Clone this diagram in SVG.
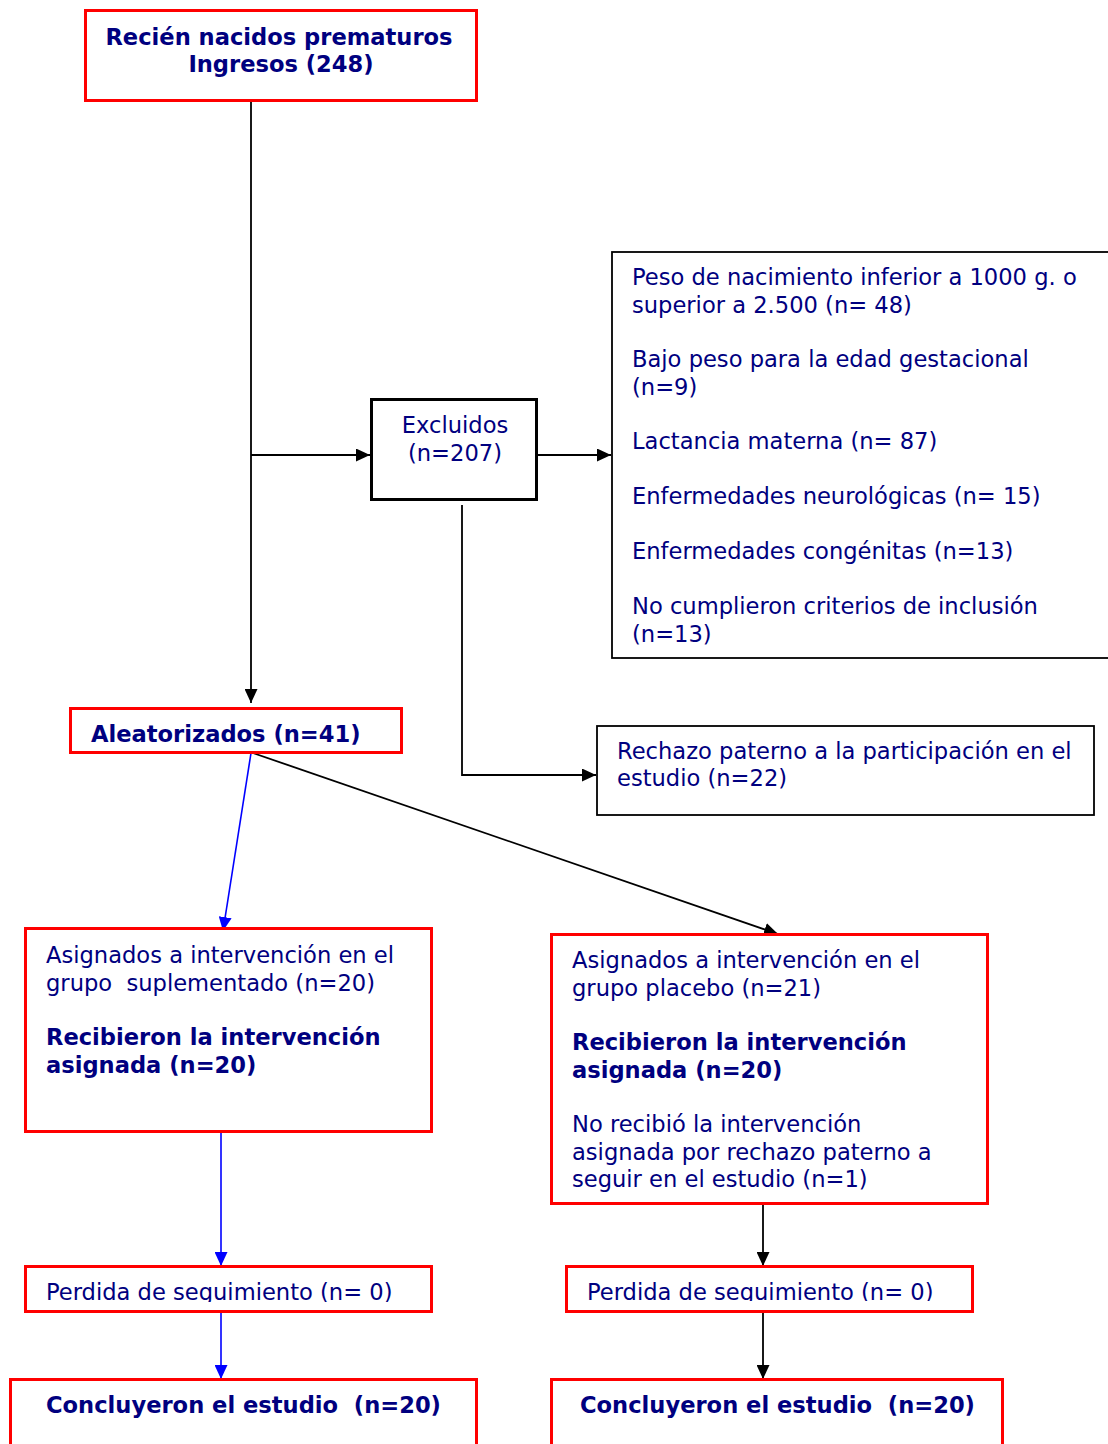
<svg xmlns="http://www.w3.org/2000/svg" width="1108" height="1444" viewBox="0 0 1108 1444">
<style>
.red{fill:#fff;stroke:#ff0000;stroke-width:3}
.blk{fill:#fff;stroke:#000;stroke-width:1.8}
.blk3{fill:#fff;stroke:#000;stroke-width:3}
text{font-family:"DejaVu Sans",Verdana,sans-serif;font-size:22.6px;fill:#00007f}
.b{font-weight:bold}
.c{fill:none;stroke:#000;stroke-width:1.8}
.cb{fill:none;stroke:#0000ff;stroke-width:1.6}
</style>
<defs>
<marker id="ak" markerUnits="userSpaceOnUse" markerWidth="15" markerHeight="13" refX="14" refY="6.5" orient="auto"><path d="M0,0 L14,6.5 L0,13 z" fill="#000"/></marker>
<marker id="ab" markerUnits="userSpaceOnUse" markerWidth="15" markerHeight="13" refX="14" refY="6.5" orient="auto"><path d="M0,0 L14,6.5 L0,13 z" fill="#0000ff"/></marker>
<clipPath id="clA"><rect x="70" y="708" width="332" height="43"/></clipPath>
<clipPath id="clPL"><rect x="25" y="1266" width="407" height="36"/></clipPath>
<clipPath id="clPR"><rect x="566" y="1266" width="407" height="35"/></clipPath>
</defs>
<g id="connectors">
<path class="c" d="M251,101 V703" marker-end="url(#ak)"/>
<path class="c" d="M251,455 H370" marker-end="url(#ak)"/>
<path class="c" d="M537,455 H611" marker-end="url(#ak)"/>
<path class="c" d="M462,505 V775 H596" marker-end="url(#ak)"/>
<path class="cb" d="M251,753 L223,931" marker-end="url(#ab)"/>
<path class="c" d="M253,753 L778,934" marker-end="url(#ak)"/>
<path class="cb" d="M221,1132 V1266" marker-end="url(#ab)"/>
<path class="c" d="M763,1204 V1266" marker-end="url(#ak)"/>
<path class="cb" d="M221,1312 V1379" marker-end="url(#ab)"/>
<path class="c" d="M763,1312 V1379" marker-end="url(#ak)"/>
</g>
<g id="n-ingresos">
<rect class="red" x="85.5" y="10.5" width="391" height="90"/>
<text class="b" x="279" y="45" text-anchor="middle">Recién nacidos prematuros</text>
<text class="b" x="281" y="72" text-anchor="middle">Ingresos (248)</text>
</g>
<g id="n-excluidos">
<rect class="blk3" x="371.5" y="399.5" width="165" height="100"/>
<text x="455" y="433" text-anchor="middle">Excluidos</text>
<text x="455" y="461" text-anchor="middle">(n=207)</text>
</g>
<g id="n-motivos">
<rect class="blk" x="612" y="252" width="500" height="406"/>
<text x="632" y="285">Peso de nacimiento inferior a 1000 g. o</text>
<text x="632" y="313">superior a 2.500 (n= 48)</text>
<text x="632" y="367">Bajo peso para la edad gestacional</text>
<text x="632" y="395">(n=9)</text>
<text x="632" y="449">Lactancia materna (n= 87)</text>
<text x="632" y="504">Enfermedades neurológicas (n= 15)</text>
<text x="632" y="559">Enfermedades congénitas (n=13)</text>
<text x="632" y="614">No cumplieron criterios de inclusión</text>
<text x="632" y="642">(n=13)</text>
</g>
<g id="n-rechazo">
<rect class="blk" x="597" y="726" width="497" height="89"/>
<text x="617" y="759">Rechazo paterno a la participación en el</text>
<text x="617" y="786">estudio (n=22)</text>
</g>
<g id="n-aleatorizados">
<rect class="red" x="70.5" y="708.5" width="331" height="44"/>
<text class="b" x="91" y="742" clip-path="url(#clA)">Aleatorizados (n=41)</text>
</g>
<g id="n-suplementado">
<rect class="red" x="25.5" y="928.5" width="406" height="203"/>
<text x="46" y="963">Asignados a intervención en el</text>
<text x="46" y="991" xml:space="preserve">grupo  suplementado (n=20)</text>
<text class="b" x="46" y="1045">Recibieron la intervención</text>
<text class="b" x="46" y="1073">asignada (n=20)</text>
</g>
<g id="n-placebo">
<rect class="red" x="551.5" y="934.5" width="436" height="269"/>
<text x="572" y="968">Asignados a intervención en el</text>
<text x="572" y="996">grupo placebo (n=21)</text>
<text class="b" x="572" y="1050">Recibieron la intervención</text>
<text class="b" x="572" y="1078">asignada (n=20)</text>
<text x="572" y="1132">No recibió la intervención</text>
<text x="572" y="1160">asignada por rechazo paterno a</text>
<text x="572" y="1187">seguir en el estudio (n=1)</text>
</g>
<g id="n-perdida-izq">
<rect class="red" x="25.5" y="1266.5" width="406" height="45"/>
<text x="46" y="1300" clip-path="url(#clPL)">Perdida de seguimiento (n= 0)</text>
</g>
<g id="n-perdida-der">
<rect class="red" x="566.5" y="1266.5" width="406" height="45"/>
<text x="587" y="1300" clip-path="url(#clPR)">Perdida de seguimiento (n= 0)</text>
</g>
<g id="n-concluyeron-izq">
<rect class="red" x="10.5" y="1379.5" width="466" height="80"/>
<text class="b" x="46" y="1413" xml:space="preserve">Concluyeron el estudio  (n=20)</text>
</g>
<g id="n-concluyeron-der">
<rect class="red" x="551.5" y="1379.5" width="451" height="80"/>
<text class="b" x="580" y="1413" xml:space="preserve">Concluyeron el estudio  (n=20)</text>
</g>
</svg>
